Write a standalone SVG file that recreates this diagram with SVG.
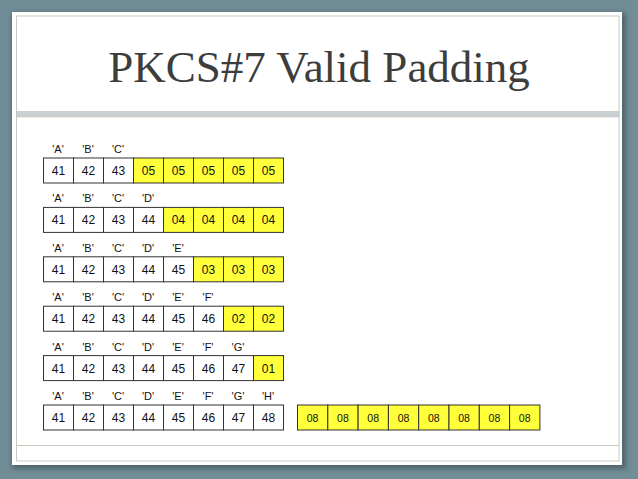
<svg xmlns="http://www.w3.org/2000/svg" width="638" height="479" viewBox="0 0 638 479">
<defs>
<filter id="sh" x="-5%" y="-5%" width="110%" height="110%"><feGaussianBlur stdDeviation="2.5"/></filter>
<style>
.c{fill:#fff;stroke:#333;stroke-width:1}
.y{fill:#ffff3a;stroke:#333;stroke-width:1}
.t{font-family:"Liberation Sans",Arial,sans-serif;font-size:12px;fill:#111;text-anchor:middle}
.s{font-family:"Liberation Sans",Arial,sans-serif;font-size:10.5px;fill:#111;text-anchor:middle}
.l{font-family:"Liberation Sans",Arial,sans-serif;font-size:11px;fill:#111;text-anchor:middle}
</style>
</defs>
<rect x="0" y="0" width="638" height="479" fill="#718d97"/>
<rect x="12" y="13" width="614" height="456" fill="#3c4a50" opacity="0.6" filter="url(#sh)"/>
<rect x="12" y="12" width="610" height="453" fill="#fff"/>
<rect x="16.5" y="16" width="602.5" height="445" fill="none" stroke="#c9c9c2" stroke-width="1"/>
<rect x="16.5" y="111.5" width="602.5" height="5.5" fill="#c9d0d2" stroke="#c2c0b8" stroke-width="0.6"/>
<line x1="16.5" y1="445.5" x2="619" y2="445.5" stroke="#c9c9c2" stroke-width="1"/>
<text x="319" y="82" font-family="'Liberation Serif','Times New Roman',serif" font-size="45" fill="#3d3d3d" text-anchor="middle">PKCS#7 Valid Padding</text>

<g id="row1">
<text class="l" x="58" y="153">'A'</text><text class="l" x="88" y="153">'B'</text><text class="l" x="118" y="153">'C'</text>
<rect class="c" x="43.5" y="158" width="30" height="25"/><rect class="c" x="73.5" y="158" width="30" height="25"/><rect class="c" x="103.5" y="158" width="30" height="25"/>
<rect class="y" x="133.5" y="158" width="30" height="25"/><rect class="y" x="163.5" y="158" width="30" height="25"/><rect class="y" x="193.5" y="158" width="30" height="25"/><rect class="y" x="223.5" y="158" width="30" height="25"/><rect class="y" x="253.5" y="158" width="30" height="25"/>
<text class="t" x="58.5" y="175">41</text><text class="t" x="88.5" y="175">42</text><text class="t" x="118.5" y="175">43</text><text class="t" x="148.5" y="175">05</text><text class="t" x="178.5" y="175">05</text><text class="t" x="208.5" y="175">05</text><text class="t" x="238.5" y="175">05</text><text class="t" x="268.5" y="175">05</text>
</g>

<g id="row2" transform="translate(0,49.4)">
<text class="l" x="58" y="153">'A'</text><text class="l" x="88" y="153">'B'</text><text class="l" x="118" y="153">'C'</text><text class="l" x="148" y="153">'D'</text>
<rect class="c" x="43.5" y="158" width="30" height="25"/><rect class="c" x="73.5" y="158" width="30" height="25"/><rect class="c" x="103.5" y="158" width="30" height="25"/><rect class="c" x="133.5" y="158" width="30" height="25"/>
<rect class="y" x="163.5" y="158" width="30" height="25"/><rect class="y" x="193.5" y="158" width="30" height="25"/><rect class="y" x="223.5" y="158" width="30" height="25"/><rect class="y" x="253.5" y="158" width="30" height="25"/>
<text class="t" x="58.5" y="175">41</text><text class="t" x="88.5" y="175">42</text><text class="t" x="118.5" y="175">43</text><text class="t" x="148.5" y="175">44</text><text class="t" x="178.5" y="175">04</text><text class="t" x="208.5" y="175">04</text><text class="t" x="238.5" y="175">04</text><text class="t" x="268.5" y="175">04</text>
</g>

<g id="row3" transform="translate(0,98.8)">
<text class="l" x="58" y="153">'A'</text><text class="l" x="88" y="153">'B'</text><text class="l" x="118" y="153">'C'</text><text class="l" x="148" y="153">'D'</text><text class="l" x="178" y="153">'E'</text>
<rect class="c" x="43.5" y="158" width="30" height="25"/><rect class="c" x="73.5" y="158" width="30" height="25"/><rect class="c" x="103.5" y="158" width="30" height="25"/><rect class="c" x="133.5" y="158" width="30" height="25"/><rect class="c" x="163.5" y="158" width="30" height="25"/>
<rect class="y" x="193.5" y="158" width="30" height="25"/><rect class="y" x="223.5" y="158" width="30" height="25"/><rect class="y" x="253.5" y="158" width="30" height="25"/>
<text class="t" x="58.5" y="175">41</text><text class="t" x="88.5" y="175">42</text><text class="t" x="118.5" y="175">43</text><text class="t" x="148.5" y="175">44</text><text class="t" x="178.5" y="175">45</text><text class="t" x="208.5" y="175">03</text><text class="t" x="238.5" y="175">03</text><text class="t" x="268.5" y="175">03</text>
</g>

<g id="row4" transform="translate(0,148.2)">
<text class="l" x="58" y="153">'A'</text><text class="l" x="88" y="153">'B'</text><text class="l" x="118" y="153">'C'</text><text class="l" x="148" y="153">'D'</text><text class="l" x="178" y="153">'E'</text><text class="l" x="208" y="153">'F'</text>
<rect class="c" x="43.5" y="158" width="30" height="25"/><rect class="c" x="73.5" y="158" width="30" height="25"/><rect class="c" x="103.5" y="158" width="30" height="25"/><rect class="c" x="133.5" y="158" width="30" height="25"/><rect class="c" x="163.5" y="158" width="30" height="25"/><rect class="c" x="193.5" y="158" width="30" height="25"/>
<rect class="y" x="223.5" y="158" width="30" height="25"/><rect class="y" x="253.5" y="158" width="30" height="25"/>
<text class="t" x="58.5" y="175">41</text><text class="t" x="88.5" y="175">42</text><text class="t" x="118.5" y="175">43</text><text class="t" x="148.5" y="175">44</text><text class="t" x="178.5" y="175">45</text><text class="t" x="208.5" y="175">46</text><text class="t" x="238.5" y="175">02</text><text class="t" x="268.5" y="175">02</text>
</g>

<g id="row5" transform="translate(0,197.6)">
<text class="l" x="58" y="153">'A'</text><text class="l" x="88" y="153">'B'</text><text class="l" x="118" y="153">'C'</text><text class="l" x="148" y="153">'D'</text><text class="l" x="178" y="153">'E'</text><text class="l" x="208" y="153">'F'</text><text class="l" x="238" y="153">'G'</text>
<rect class="c" x="43.5" y="158" width="30" height="25"/><rect class="c" x="73.5" y="158" width="30" height="25"/><rect class="c" x="103.5" y="158" width="30" height="25"/><rect class="c" x="133.5" y="158" width="30" height="25"/><rect class="c" x="163.5" y="158" width="30" height="25"/><rect class="c" x="193.5" y="158" width="30" height="25"/><rect class="c" x="223.5" y="158" width="30" height="25"/>
<rect class="y" x="253.5" y="158" width="30" height="25"/>
<text class="t" x="58.5" y="175">41</text><text class="t" x="88.5" y="175">42</text><text class="t" x="118.5" y="175">43</text><text class="t" x="148.5" y="175">44</text><text class="t" x="178.5" y="175">45</text><text class="t" x="208.5" y="175">46</text><text class="t" x="238.5" y="175">47</text><text class="t" x="268.5" y="175">01</text>
</g>

<g id="row6" transform="translate(0,247)">
<text class="l" x="58" y="153">'A'</text><text class="l" x="88" y="153">'B'</text><text class="l" x="118" y="153">'C'</text><text class="l" x="148" y="153">'D'</text><text class="l" x="178" y="153">'E'</text><text class="l" x="208" y="153">'F'</text><text class="l" x="238" y="153">'G'</text><text class="l" x="268" y="153">'H'</text>
<rect class="c" x="43.5" y="158" width="30" height="25"/><rect class="c" x="73.5" y="158" width="30" height="25"/><rect class="c" x="103.5" y="158" width="30" height="25"/><rect class="c" x="133.5" y="158" width="30" height="25"/><rect class="c" x="163.5" y="158" width="30" height="25"/><rect class="c" x="193.5" y="158" width="30" height="25"/><rect class="c" x="223.5" y="158" width="30" height="25"/><rect class="c" x="253.5" y="158" width="30" height="25"/>
<text class="t" x="58.5" y="175">41</text><text class="t" x="88.5" y="175">42</text><text class="t" x="118.5" y="175">43</text><text class="t" x="148.5" y="175">44</text><text class="t" x="178.5" y="175">45</text><text class="t" x="208.5" y="175">46</text><text class="t" x="238.5" y="175">47</text><text class="t" x="268.5" y="175">48</text>
</g>

<g id="pad8" transform="translate(0,247)">
<rect class="y" x="297.5" y="158" width="30.3" height="25"/><rect class="y" x="327.8" y="158" width="30.3" height="25"/><rect class="y" x="358.1" y="158" width="30.3" height="25"/><rect class="y" x="388.4" y="158" width="30.3" height="25"/><rect class="y" x="418.7" y="158" width="30.3" height="25"/><rect class="y" x="449" y="158" width="30.3" height="25"/><rect class="y" x="479.3" y="158" width="30.3" height="25"/><rect class="y" x="509.6" y="158" width="30.3" height="25"/>
<text class="s" x="312.6" y="174.5">08</text><text class="s" x="342.9" y="174.5">08</text><text class="s" x="373.2" y="174.5">08</text><text class="s" x="403.5" y="174.5">08</text><text class="s" x="433.8" y="174.5">08</text><text class="s" x="464.1" y="174.5">08</text><text class="s" x="494.4" y="174.5">08</text><text class="s" x="524.7" y="174.5">08</text>
</g>
</svg>
